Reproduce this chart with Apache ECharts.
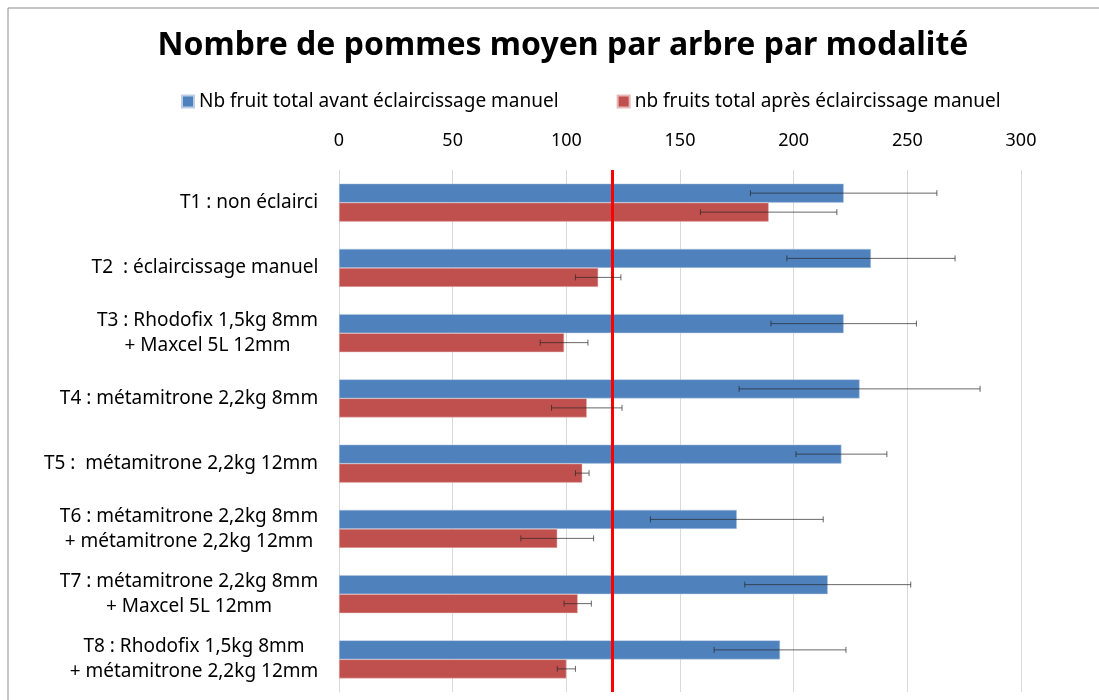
<!DOCTYPE html>
<html>
<head>
<meta charset="utf-8">
<script src="https://cdn.jsdelivr.net/npm/echarts@6/dist/echarts.min.js"></script>
<style>
  html, body { margin: 0; padding: 0; background: #fff; }
  #chart { width: 1099px; height: 700px; }
</style>
</head>
<body>
<div id="chart"></div>
<script>
const categories = [
  "T1 : non éclairci",
  "T2  : éclaircissage manuel",
  "T3 : Rhodofix 1,5kg 8mm\n+ Maxcel 5L 12mm",
  "T4 : métamitrone 2,2kg 8mm",
  "T5 :  métamitrone 2,2kg 12mm",
  "T6 : métamitrone 2,2kg 8mm\n+ métamitrone 2,2kg 12mm",
  "T7 : métamitrone 2,2kg 8mm\n+ Maxcel 5L 12mm",
  "T8 : Rhodofix 1,5kg 8mm\n+ métamitrone 2,2kg 12mm",
];
const avant = [222, 234, 222, 229, 221, 175, 215, 194];
const avantErr = [41, 37, 32, 53, 20, 38, 36.5, 29];
const apres = [189, 114, 99, 109, 107, 96, 105, 100];
const apresErr = [30, 10, 10.5, 15.5, 3, 16, 6, 4];
const xTicks = [0, 50, 100, 150, 200, 250, 300];
const seuil = 120;

const fontFamily = '"Comic Sans MS", "Noto Sans", sans-serif';
const labelSize = 19;
const barHeight = 19;

// multi-line labels: lines centred on each other, block right-aligned on the axis
const measure = document.createElement("canvas").getContext("2d");
measure.font = `${labelSize}px ${fontFamily}`;
const labelRich = {};
categories.forEach((c, i) => {
  const w = Math.max(...c.split("\n").map((l) => measure.measureText(l).width));
  labelRich["l" + i] = { width: Math.ceil(w) + 1, align: "center", fontSize: labelSize, lineHeight: 25 };
});

const errData = (values, errs) =>
  values.map((v, i) => [i, v - errs[i], v + errs[i]]);

// horizontal error bar, shifted onto its bar inside the category band
const errorBar = (offset) => (params, api) => {
  const lo = api.coord([api.value(1), api.value(0)]);
  const hi = api.coord([api.value(2), api.value(0)]);
  const y = lo[1] + offset;
  const cap = 3;
  const style = { stroke: "rgba(40,40,40,0.7)", lineWidth: 1 };
  return {
    type: "group",
    children: [
      { type: "line", shape: { x1: lo[0], y1: y, x2: hi[0], y2: y }, style },
      { type: "line", shape: { x1: lo[0], y1: y - cap, x2: lo[0], y2: y + cap }, style },
      { type: "line", shape: { x1: hi[0], y1: y - cap, x2: hi[0], y2: y + cap }, style },
    ],
  };
};

const chart = echarts.init(document.getElementById("chart"));

chart.setOption({
  animation: false,
  textStyle: { fontFamily },
  graphic: [
    {
      type: "rect",
      shape: { x: 8, y: 8, width: 1200, height: 800 },
      style: { fill: "none", stroke: "#8c8c8c", lineWidth: 1 },
      silent: true,
    },
  ],
  title: {
    text: "Nombre de pommes moyen par arbre par modalité",
    left: 558,
    textAlign: "center",
    top: 25,
    textStyle: { fontFamily, fontSize: 32, fontWeight: "bold", color: "#000" },
  },
  legend: {
    top: 87,
    left: 176,
    itemWidth: 12,
    itemHeight: 12,
    itemGap: 58,
    icon: "rect",
    textStyle: { fontFamily, fontSize: 19, color: "#000" },
    data: [
      "Nb fruit total avant éclaircissage manuel",
      "nb fruits total après éclaircissage manuel",
    ],
  },
  grid: { left: 339, right: 78, top: 170, bottom: 8 },
  xAxis: {
    type: "value",
    position: "top",
    min: 0,
    max: 300,
    interval: 50,
    axisLine: { show: false },
    axisTick: { show: false },
    axisLabel: {
      margin: 20,
      fontSize: 18,
      color: "#000",
      fontFamily,
      formatter: (v) => (xTicks.includes(v) ? String(v) : ""),
    },
    splitLine: { lineStyle: { color: "#d9d9d9", width: 1 } },
  },
  yAxis: {
    type: "category",
    inverse: true,
    data: categories,
    axisLine: { show: true, lineStyle: { color: "#d9d9d9" } },
    axisTick: { show: false },
    axisLabel: {
      margin: 20,
      fontSize: labelSize,
      color: "#000",
      fontFamily,
      lineHeight: 25,
      align: "right",
      formatter: (value, i) => {
        const idx = categories.indexOf(value);
        return value.split("\n").map((l) => `{l${idx}|${l}}`).join("\n");
      },
      rich: labelRich,
    },
  },
  series: [
    {
      name: "Nb fruit total avant éclaircissage manuel",
      type: "bar",
      data: avant,
      barWidth: barHeight,
      barGap: "0%",
      itemStyle: { color: "#4f81bd", borderColor: "#b9cde5", borderWidth: 0.5 },
    },
    {
      name: "nb fruits total après éclaircissage manuel",
      type: "bar",
      data: apres,
      barWidth: barHeight,
      barGap: "0%",
      itemStyle: { color: "#c0504d", borderColor: "#e6b9b8", borderWidth: 0.5 },
      markLine: {
        silent: true,
        symbol: "none",
        label: { show: false },
        lineStyle: { color: "#ff0000", width: 3, type: "solid" },
        data: [{ xAxis: seuil }],
      },
    },
    {
      type: "custom",
      renderItem: errorBar(-barHeight / 2),
      encode: { x: [1, 2], y: 0 },
      data: errData(avant, avantErr),
      z: 10,
    },
    {
      type: "custom",
      renderItem: errorBar(barHeight / 2),
      encode: { x: [1, 2], y: 0 },
      data: errData(apres, apresErr),
      z: 10,
    },
  ],
});
</script>
</body>
</html>
